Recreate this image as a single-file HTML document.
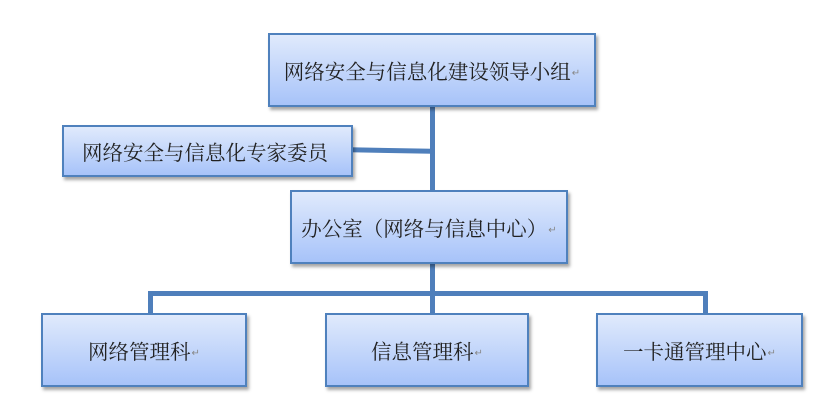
<!DOCTYPE html>
<html><head><meta charset="utf-8"><style>
body{margin:0;width:834px;height:413px;background:#fff;position:relative;overflow:hidden;font-family:"Liberation Serif","Noto Serif CJK SC",serif;}
.b{position:absolute;box-sizing:border-box;border:2px solid #4f81bd;background:linear-gradient(#e0eafc,#a7c3f9);box-shadow:2px 3px 3px rgba(0,0,0,.35);display:flex;align-items:center;justify-content:center;font-size:20.5px;color:#222;}
.l{position:absolute;background:#4f7fbb;}
.r{font-size:10px;color:#888;margin-left:1px;margin-top:6px}
</style></head><body>
<div class="l" style="left:430px;top:104px;width:5px;height:90px"></div>
<div class="l" style="left:350px;top:148px;width:82px;height:5px;transform:rotate(1deg)"></div>
<div class="l" style="left:430px;top:262px;width:5px;height:52px"></div>
<div class="l" style="left:148px;top:291px;width:560px;height:5px"></div>
<div class="l" style="left:148px;top:291px;width:5px;height:24px"></div>
<div class="l" style="left:703px;top:291px;width:5px;height:24px"></div>
<div class="b" style="left:268px;top:33px;width:328px;height:74px">网络安全与信息化建设领导小组<span class="r">↵</span></div>
<div class="b" style="left:62px;top:125px;width:291px;height:52px;justify-content:flex-start;padding-left:18px">网络安全与信息化专家委员</div>
<div class="b" style="left:290px;top:190px;width:278px;height:74px">办公室（网络与信息中心）<span class="r">↵</span></div>
<div class="b" style="left:41px;top:313px;width:206px;height:74px">网络管理科<span class="r">↵</span></div>
<div class="b" style="left:325px;top:313px;width:204px;height:74px">信息管理科<span class="r">↵</span></div>
<div class="b" style="left:596px;top:313px;width:207px;height:74px">一卡通管理中心<span class="r">↵</span></div>
</body></html>
